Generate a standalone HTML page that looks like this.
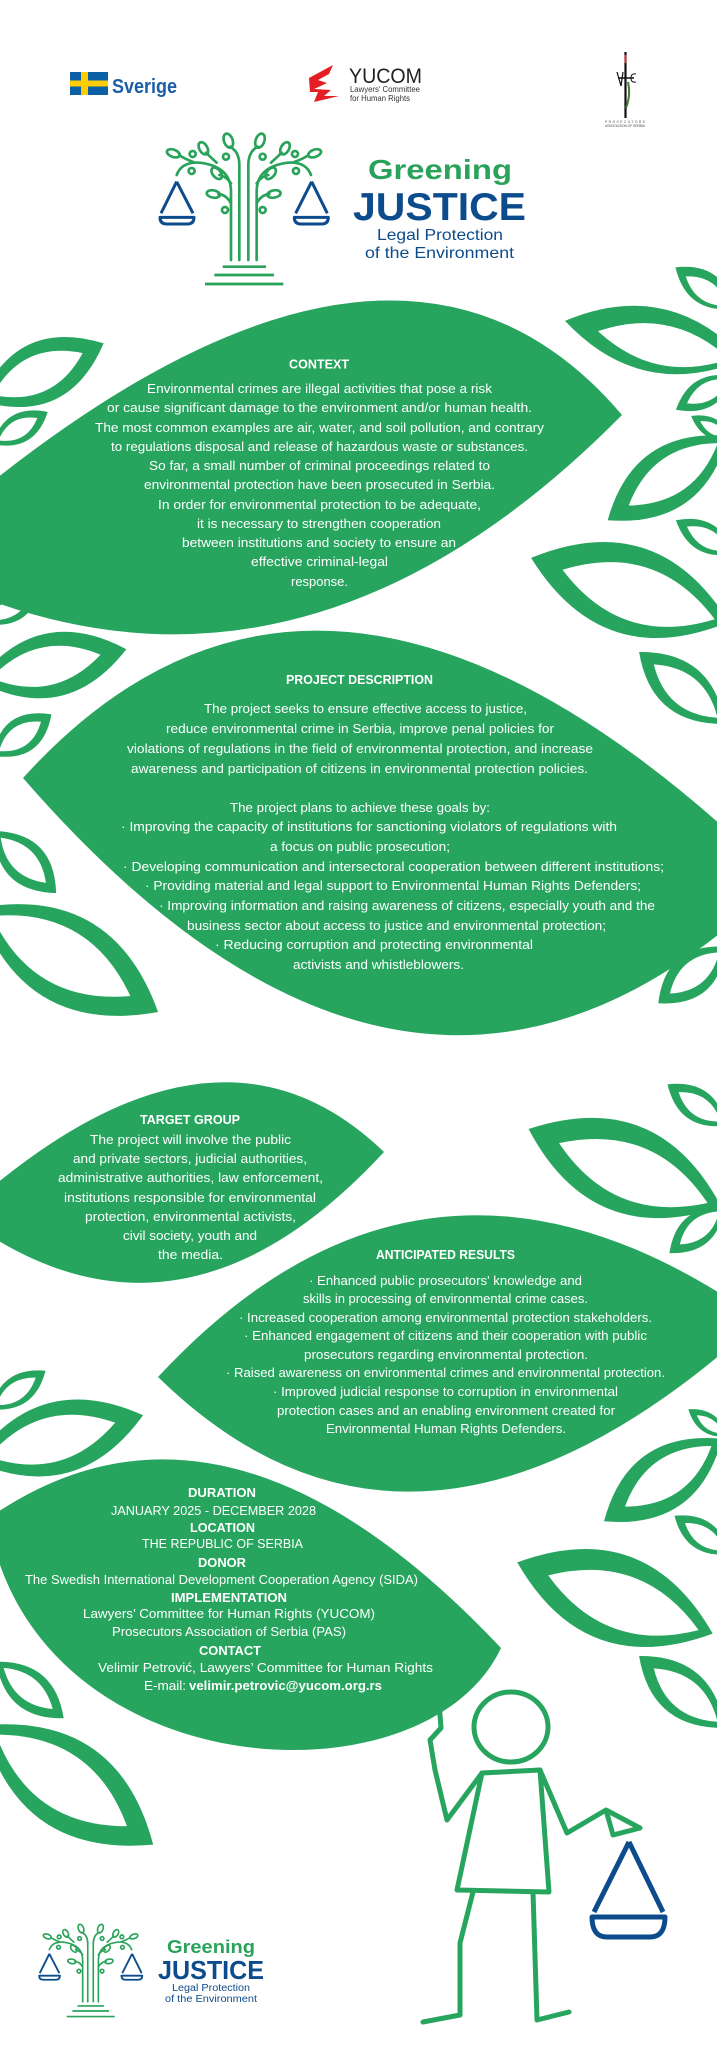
<!DOCTYPE html>
<html><head><meta charset="utf-8"><style>
html,body{margin:0;padding:0;background:#fff;}
svg{display:block;}
text{font-family:"Liberation Sans",sans-serif;}
</style></head><body>
<svg width="717" height="2048" viewBox="0 0 717 2048" xmlns="http://www.w3.org/2000/svg">
<defs>
<path id="lens" d="M-1 0 Q0 -1 1 0 Q0 1 -1 0Z"/>
<g id="tree" fill="none">
 <g stroke="#2aa35a" stroke-width="8" stroke-linecap="round">
  <path d="M243 420 V215 Q243 140 150 128 Q95 124 80 165"/>
  <path d="M268 420 V135 Q268 95 240 80"/>
  <path d="M295 420 V135 Q295 95 323 80"/>
  <path d="M320 420 V215 Q320 140 413 128 Q468 124 483 165"/>
  <path d="M243 250 Q230 225 205 222"/>
  <path d="M320 250 Q333 225 358 222"/>
  <path d="M243 190 Q230 170 208 165"/>
  <path d="M320 190 Q333 170 355 165"/>
  <path d="M200 128 Q180 110 168 98"/>
  <path d="M363 128 Q383 110 395 98"/>
  <path d="M130 126 Q100 115 88 105"/>
  <path d="M433 126 Q463 115 475 105"/>
  <ellipse cx="235" cy="62" rx="13" ry="22" transform="rotate(-20 235 62)"/>
  <ellipse cx="330" cy="62" rx="13" ry="22" transform="rotate(20 330 62)"/>
  <ellipse cx="160" cy="85" rx="12" ry="20" transform="rotate(-30 160 85)"/>
  <ellipse cx="405" cy="85" rx="12" ry="20" transform="rotate(30 405 85)"/>
  <ellipse cx="70" cy="100" rx="20" ry="11" transform="rotate(20 70 100)"/>
  <ellipse cx="494" cy="100" rx="20" ry="11" transform="rotate(-20 494 100)"/>
  <ellipse cx="200" cy="160" rx="12" ry="20" transform="rotate(-40 200 160)"/>
  <ellipse cx="362" cy="160" rx="12" ry="20" transform="rotate(40 362 160)"/>
  <ellipse cx="190" cy="222" rx="20" ry="11" transform="rotate(10 190 222)"/>
  <ellipse cx="372" cy="222" rx="20" ry="11" transform="rotate(-10 372 222)"/>
  <circle cx="128" cy="102" r="9"/><circle cx="125" cy="153" r="9"/>
  <circle cx="228" cy="110" r="9"/><circle cx="225" cy="270" r="9"/>
  <circle cx="338" cy="110" r="9"/><circle cx="435" cy="102" r="9"/>
  <circle cx="438" cy="153" r="9"/><circle cx="338" cy="270" r="9"/>
  <path d="M218 440 H348 M193 465 H372 M165 492 H400" stroke-linecap="butt"/>
 </g>
 <g stroke="#0c4c8c" stroke-width="9" stroke-linejoin="round">
  <path d="M80 185 L33 280 M80 185 L129 280"/>
  <path d="M30 292 H132 Q132 312 112 312 H50 Q30 312 30 292Z"/>
  <path d="M485 185 L437 280 M485 185 L532 280"/>
  <path d="M433 292 H535 Q535 312 515 312 H453 Q433 312 433 292Z"/>
 </g>
</g>
</defs>

<!-- header logos -->
<rect x="70" y="72" width="38" height="23" fill="#0b5fa5"/>
<rect x="81" y="72" width="7" height="23" fill="#fecc02"/>
<rect x="70" y="80.5" width="38" height="6" fill="#fecc02"/>
<text x="112" y="93" font-size="20" font-weight="bold" fill="#1a5ea7" textLength="65" lengthAdjust="spacingAndGlyphs">Sverige</text>

<polygon points="309,78 333,65 329,74 318,80 327,83 314,89 331,90 324,96 339,96 314,102 318,92 310,92" fill="#e31e24"/>
<text x="349" y="83" font-size="21" fill="#231f20" textLength="73" lengthAdjust="spacingAndGlyphs">YUCOM</text>
<text x="350" y="92" font-size="8.5" fill="#333" textLength="70" lengthAdjust="spacingAndGlyphs">Lawyers' Committee</text>
<text x="350" y="101" font-size="8.5" fill="#333" textLength="60" lengthAdjust="spacingAndGlyphs">for Human Rights</text>

<g>
 <line x1="625.5" y1="52" x2="625.5" y2="118" stroke="#111" stroke-width="2.2"/>
 <rect x="624.5" y="55" width="2" height="8" fill="#c33"/>
 <line x1="618" y1="78" x2="634" y2="78" stroke="#111" stroke-width="1.5"/>
 <path d="M617 72 L621 86 L623 72" fill="none" stroke="#111" stroke-width="1.2"/>
 <path d="M636 74 Q631 73 631 78 Q631 83 636 82" fill="none" stroke="#111" stroke-width="1"/>
 <path d="M628 82 Q631 95 626 108" fill="none" stroke="#4a7a3a" stroke-width="2"/>
 <text x="605" y="123" font-size="3.5" fill="#555" textLength="40">PROSECUTORS</text>
 <text x="605" y="127" font-size="3.5" fill="#555" textLength="40">ASSOCIATION OF SERBIA</text>
</g>

<use href="#tree" transform="translate(150,120) scale(0.3333)"/>
<text x="368" y="179" font-size="28" font-weight="bold" fill="#2aa35a" textLength="144" lengthAdjust="spacingAndGlyphs">Greening</text>
<text x="353" y="220" font-size="39" font-weight="bold" fill="#0c4c8c" textLength="173" lengthAdjust="spacingAndGlyphs">JUSTICE</text>
<text x="377" y="240" font-size="16" fill="#0c4c8c" textLength="126" lengthAdjust="spacingAndGlyphs">Legal Protection</text>
<text x="365" y="258" font-size="16" fill="#0c4c8c" textLength="149" lengthAdjust="spacingAndGlyphs">of the Environment</text>

<!-- outline leaves -->
<g fill="#27a55f">
<g transform="translate(655,340) rotate(12) scale(0.8)"><use href="#lens" transform="scale(115,80)"/><use href="#lens" fill="#fff" transform="translate(12,4) scale(84,50)"/></g>
<g transform="translate(705,288) rotate(35) scale(0.8)"><use href="#lens" transform="scale(45,40)"/><use href="#lens" fill="#fff" transform="translate(4,2) scale(32,24)"/></g>
<g transform="translate(705,393) rotate(-30) scale(0.8)"><use href="#lens" transform="scale(42,36)"/><use href="#lens" fill="#fff" transform="translate(4,0) scale(30,22)"/></g>
<g transform="translate(712,428) rotate(30) scale(0.8)"><use href="#lens" transform="scale(30,24)"/><use href="#lens" fill="#fff" transform="translate(3,0) scale(20,13)"/></g>
<g transform="translate(668,478) rotate(-35) scale(0.8)"><use href="#lens" transform="scale(92,76)"/><use href="#lens" fill="#fff" transform="translate(8,0) scale(68,46)"/></g>
<g transform="translate(705,537) rotate(30) scale(0.8)"><use href="#lens" transform="scale(42,36)"/><use href="#lens" fill="#fff" transform="translate(4,0) scale(30,22)"/></g>
<g transform="translate(630,590) rotate(18) scale(0.8)"><use href="#lens" transform="scale(130,110)"/><use href="#lens" fill="#fff" transform="translate(12,2) scale(100,70)"/></g>
<g transform="translate(42,372) rotate(-25) scale(0.8)"><use href="#lens" transform="scale(85,76)"/><use href="#lens" fill="#fff" transform="translate(-6,0) scale(62,46)"/></g>
<g transform="translate(20,428) rotate(-30) scale(0.8)"><use href="#lens" transform="scale(40,36)"/><use href="#lens" fill="#fff" transform="translate(-3,0) scale(28,22)"/></g>
<g transform="translate(14,605) rotate(-35) scale(0.8)"><use href="#lens" transform="scale(42,38)"/><use href="#lens" fill="#fff" transform="translate(-3,0) scale(30,22)"/></g>
<g transform="translate(52,665) rotate(-12) scale(0.8)"><use href="#lens" transform="scale(95,80)"/><use href="#lens" fill="#fff" transform="translate(-8,0) scale(70,48)"/></g>
<g transform="translate(22,735) rotate(-35) scale(0.8)"><use href="#lens" transform="scale(45,44)"/><use href="#lens" fill="#fff" transform="translate(-3,0) scale(32,26)"/></g>
<g transform="translate(25,862) rotate(45) scale(0.8)"><use href="#lens" transform="scale(55,52)"/><use href="#lens" fill="#fff" transform="translate(-3,0) scale(40,30)"/></g>
<g transform="translate(68,960) rotate(30) scale(0.8)"><use href="#lens" transform="scale(130,110)"/><use href="#lens" fill="#fff" transform="translate(-10,0) scale(100,70)"/></g>
<g transform="translate(682,688) rotate(40) scale(0.8)"><use href="#lens" transform="scale(70,60)"/><use href="#lens" fill="#fff" transform="translate(6,0) scale(52,38)"/></g>
<g transform="translate(692,975) rotate(-40) scale(0.8)"><use href="#lens" transform="scale(55,52)"/><use href="#lens" fill="#fff" transform="translate(4,0) scale(40,30)"/></g>
<g transform="translate(697,1105) rotate(35) scale(0.8)"><use href="#lens" transform="scale(45,40)"/><use href="#lens" fill="#fff" transform="translate(4,0) scale(32,24)"/></g>
<g transform="translate(625,1168) rotate(22) scale(0.8)"><use href="#lens" transform="scale(130,110)"/><use href="#lens" fill="#fff" transform="translate(12,2) scale(100,68)"/></g>
<g transform="translate(697,1230) rotate(-40) scale(0.8)"><use href="#lens" transform="scale(45,40)"/><use href="#lens" fill="#fff" transform="translate(4,0) scale(32,24)"/></g>
<g transform="translate(708,1423) rotate(35) scale(0.8)"><use href="#lens" transform="scale(30,24)"/><use href="#lens" fill="#fff" transform="translate(3,0) scale(20,13)"/></g>
<g transform="translate(663,1480) rotate(-35) scale(0.8)"><use href="#lens" transform="scale(90,76)"/><use href="#lens" fill="#fff" transform="translate(8,0) scale(66,46)"/></g>
<g transform="translate(702,1535) rotate(35) scale(0.8)"><use href="#lens" transform="scale(42,36)"/><use href="#lens" fill="#fff" transform="translate(4,0) scale(30,22)"/></g>
<g transform="translate(615,1598) rotate(20) scale(0.8)"><use href="#lens" transform="scale(130,110)"/><use href="#lens" fill="#fff" transform="translate(12,2) scale(100,68)"/></g>
<g transform="translate(18,1390) rotate(-35) scale(0.8)"><use href="#lens" transform="scale(42,36)"/><use href="#lens" fill="#fff" transform="translate(-3,0) scale(30,22)"/></g>
<g transform="translate(58,1438) rotate(-15) scale(0.8)"><use href="#lens" transform="scale(110,90)"/><use href="#lens" fill="#fff" transform="translate(-8,0) scale(82,56)"/></g>
<g transform="translate(30,1690) rotate(40) scale(0.8)"><use href="#lens" transform="scale(55,48)"/><use href="#lens" fill="#fff" transform="translate(-3,0) scale(40,28)"/></g>
<g transform="translate(68,1785) rotate(35) scale(0.8)"><use href="#lens" transform="scale(130,110)"/><use href="#lens" fill="#fff" transform="translate(-10,0) scale(100,70)"/></g>
<g transform="translate(682,1692) rotate(40) scale(0.8)"><use href="#lens" transform="scale(70,60)"/><use href="#lens" fill="#fff" transform="translate(6,0) scale(52,38)"/></g>

<!-- big solid leaves -->
<path d="M622 415 Q379 128 -100 560 Q279 762 622 415Z"/>
<path d="M23 778 Q330 439 780 880 Q420 1235 23 778Z"/>
<path d="M-40 1215 Q212 986 384 1152 Q176 1377 -40 1215Z"/>
<path d="M158 1377 Q429 1085 760 1320 Q419 1632 158 1377Z"/>
<path d="M501 1648 C430 1800 80 1790 0 1565 L-40 1540 Q207 1336 501 1648Z"/>
</g>

<!-- texts -->
<g fill="#fff" font-size="12.5">
<text x="289" y="368.5" font-weight="bold" textLength="60" lengthAdjust="spacingAndGlyphs">CONTEXT</text>
<text x="147" y="393" textLength="345" lengthAdjust="spacingAndGlyphs">Environmental crimes are illegal activities that pose a risk</text>
<text x="107" y="412" textLength="425" lengthAdjust="spacingAndGlyphs">or cause significant damage to the environment and/or human health.</text>
<text x="95" y="432" textLength="449" lengthAdjust="spacingAndGlyphs">The most common examples are air, water, and soil pollution, and contrary</text>
<text x="111" y="451" textLength="417" lengthAdjust="spacingAndGlyphs">to regulations disposal and release of hazardous waste or substances.</text>
<text x="149" y="470" textLength="341" lengthAdjust="spacingAndGlyphs">So far, a small number of criminal proceedings related to</text>
<text x="144" y="489" textLength="351" lengthAdjust="spacingAndGlyphs">environmental protection have been prosecuted in Serbia.</text>
<text x="158" y="509" textLength="323" lengthAdjust="spacingAndGlyphs">In order for environmental protection to be adequate,</text>
<text x="197" y="528" textLength="244" lengthAdjust="spacingAndGlyphs">it is necessary to strengthen cooperation</text>
<text x="182" y="547" textLength="274" lengthAdjust="spacingAndGlyphs">between institutions and society to ensure an</text>
<text x="251" y="566" textLength="137" lengthAdjust="spacingAndGlyphs">effective criminal-legal</text>
<text x="291" y="586" textLength="57" lengthAdjust="spacingAndGlyphs">response.</text>

<text x="286" y="684" font-weight="bold" textLength="147" lengthAdjust="spacingAndGlyphs">PROJECT DESCRIPTION</text>
<text x="204" y="713" textLength="323" lengthAdjust="spacingAndGlyphs">The project seeks to ensure effective access to justice,</text>
<text x="166" y="733" textLength="388" lengthAdjust="spacingAndGlyphs">reduce environmental crime in Serbia, improve penal policies for</text>
<text x="127" y="753" textLength="466" lengthAdjust="spacingAndGlyphs">violations of regulations in the field of environmental protection, and increase</text>
<text x="131" y="773" textLength="457" lengthAdjust="spacingAndGlyphs">awareness and participation of citizens in environmental protection policies.</text>
<text x="230" y="812" textLength="260" lengthAdjust="spacingAndGlyphs">The project plans to achieve these goals by:</text>
<text x="121" y="831" textLength="496" lengthAdjust="spacingAndGlyphs">· Improving the capacity of institutions for sanctioning violators of regulations with</text>
<text x="270" y="851" textLength="180" lengthAdjust="spacingAndGlyphs">a focus on public prosecution;</text>
<text x="123" y="871" textLength="541" lengthAdjust="spacingAndGlyphs">· Developing communication and intersectoral cooperation between different institutions;</text>
<text x="145" y="890" textLength="496" lengthAdjust="spacingAndGlyphs">· Providing material and legal support to Environmental Human Rights Defenders;</text>
<text x="159" y="910" textLength="496" lengthAdjust="spacingAndGlyphs">· Improving information and raising awareness of citizens, especially youth and the</text>
<text x="187" y="930" textLength="419" lengthAdjust="spacingAndGlyphs">business sector about access to justice and environmental protection;</text>
<text x="215" y="949" textLength="318" lengthAdjust="spacingAndGlyphs">· Reducing corruption and protecting environmental</text>
<text x="293" y="969" textLength="171" lengthAdjust="spacingAndGlyphs">activists and whistleblowers.</text>

<text x="140" y="1124" font-weight="bold" textLength="100" lengthAdjust="spacingAndGlyphs">TARGET GROUP</text>
<text x="90" y="1144" textLength="201" lengthAdjust="spacingAndGlyphs">The project will involve the public</text>
<text x="73" y="1163" textLength="234" lengthAdjust="spacingAndGlyphs">and private sectors, judicial authorities,</text>
<text x="58" y="1182" textLength="265" lengthAdjust="spacingAndGlyphs">administrative authorities, law enforcement,</text>
<text x="64" y="1202" textLength="252" lengthAdjust="spacingAndGlyphs">institutions responsible for environmental</text>
<text x="85" y="1221" textLength="211" lengthAdjust="spacingAndGlyphs">protection, environmental activists,</text>
<text x="123" y="1240" textLength="134" lengthAdjust="spacingAndGlyphs">civil society, youth and</text>
<text x="158" y="1259" textLength="65" lengthAdjust="spacingAndGlyphs">the media.</text>

<text x="376" y="1259" font-weight="bold" textLength="139" lengthAdjust="spacingAndGlyphs">ANTICIPATED RESULTS</text>
<text x="309" y="1285" textLength="273" lengthAdjust="spacingAndGlyphs">· Enhanced public prosecutors' knowledge and</text>
<text x="303" y="1303" textLength="285" lengthAdjust="spacingAndGlyphs">skills in processing of environmental crime cases.</text>
<text x="239" y="1322" textLength="413" lengthAdjust="spacingAndGlyphs">· Increased cooperation among environmental protection stakeholders.</text>
<text x="244" y="1340" textLength="403" lengthAdjust="spacingAndGlyphs">· Enhanced engagement of citizens and their cooperation with public</text>
<text x="304" y="1359" textLength="284" lengthAdjust="spacingAndGlyphs">prosecutors regarding environmental protection.</text>
<text x="226" y="1377" textLength="439" lengthAdjust="spacingAndGlyphs">· Raised awareness on environmental crimes and environmental protection.</text>
<text x="273" y="1396" textLength="345" lengthAdjust="spacingAndGlyphs">· Improved judicial response to corruption in environmental</text>
<text x="277" y="1415" textLength="338" lengthAdjust="spacingAndGlyphs">protection cases and an enabling environment created for</text>
<text x="326" y="1433" textLength="240" lengthAdjust="spacingAndGlyphs">Environmental Human Rights Defenders.</text>

<text x="188" y="1497" font-weight="bold" textLength="68" lengthAdjust="spacingAndGlyphs">DURATION</text>
<text x="111" y="1515" textLength="205" lengthAdjust="spacingAndGlyphs">JANUARY 2025 - DECEMBER 2028</text>
<text x="190" y="1532" font-weight="bold" textLength="65" lengthAdjust="spacingAndGlyphs">LOCATION</text>
<text x="142" y="1548" textLength="161" lengthAdjust="spacingAndGlyphs">THE REPUBLIC OF SERBIA</text>
<text x="198" y="1567" font-weight="bold" textLength="48" lengthAdjust="spacingAndGlyphs">DONOR</text>
<text x="25" y="1584" textLength="393" lengthAdjust="spacingAndGlyphs">The Swedish International Development Cooperation Agency (SIDA)</text>
<text x="171" y="1602" font-weight="bold" textLength="116" lengthAdjust="spacingAndGlyphs">IMPLEMENTATION</text>
<text x="83" y="1618" textLength="292" lengthAdjust="spacingAndGlyphs">Lawyers’ Committee for Human Rights (YUCOM)</text>
<text x="112" y="1636" textLength="234" lengthAdjust="spacingAndGlyphs">Prosecutors Association of Serbia (PAS)</text>
<text x="199" y="1655" font-weight="bold" textLength="62" lengthAdjust="spacingAndGlyphs">CONTACT</text>
<text x="98" y="1672" textLength="335" lengthAdjust="spacingAndGlyphs">Velimir Petrović, Lawyers’ Committee for Human Rights</text>
<text x="144" y="1690" textLength="42" lengthAdjust="spacingAndGlyphs">E-mail:</text>
<text x="189" y="1690" font-weight="bold" textLength="193" lengthAdjust="spacingAndGlyphs">velimir.petrovic@yucom.org.rs</text>
</g>

<!-- stick figure -->
<g fill="none" stroke="#27a55f" stroke-width="5" stroke-linejoin="round" stroke-linecap="round">
 <ellipse cx="511" cy="1727" rx="37" ry="35"/>
 <polyline points="482,1773 447,1820 435,1770 430,1740 441,1728 439,1702"/>
 <polygon points="482,1773 540,1770 549,1892 457,1890"/>
 <polyline points="540,1770 567,1833 606,1810 640,1828 613,1835 606,1810"/>
 <polyline points="473,1892 460,1943 460,2015 423,2022"/>
 <polyline points="533,1892 537,2020 569,2012"/>
</g>
<g fill="none" stroke="#0c4c8c" stroke-width="5" stroke-linejoin="round">
 <path d="M629 1842 L594 1912 M629 1842 L663 1912"/>
 <path d="M592 1917 H665 Q665 1937 650 1937 H607 Q592 1937 592 1917Z"/>
</g>

<!-- bottom logo -->
<use href="#tree" transform="translate(33,1916) scale(0.2043)"/>
<text x="167" y="1953" font-size="18" font-weight="bold" fill="#2aa35a" textLength="88" lengthAdjust="spacingAndGlyphs">Greening</text>
<text x="158" y="1979" font-size="26" font-weight="bold" fill="#0c4c8c" textLength="106" lengthAdjust="spacingAndGlyphs">JUSTICE</text>
<text x="172" y="1991" font-size="10" fill="#0c4c8c" textLength="78" lengthAdjust="spacingAndGlyphs">Legal Protection</text>
<text x="165" y="2002" font-size="10" fill="#0c4c8c" textLength="92" lengthAdjust="spacingAndGlyphs">of the Environment</text>
</svg>
</body></html>
